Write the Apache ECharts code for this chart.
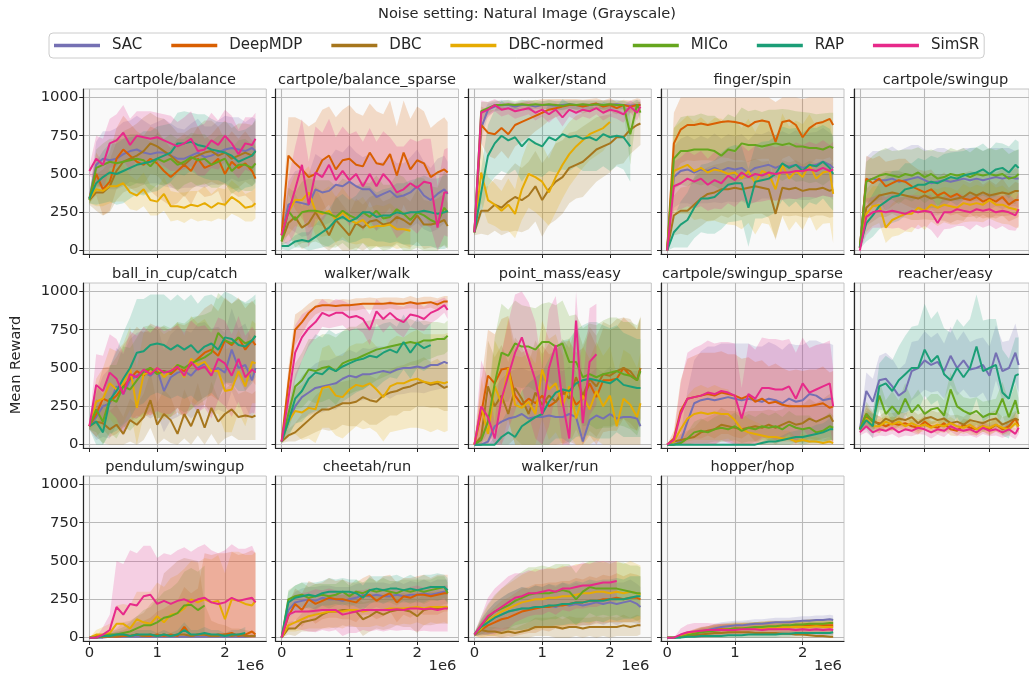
<!DOCTYPE html>
<html lang="en">
<head>
<meta charset="UTF-8" />
<title>Noise setting: Natural Image (Grayscale)</title>
<style>
  * { margin: 0; padding: 0; }
  body { background: #ffffff; }
</style>
</head>
<body>
<div id="main" style="width: 1029px; height: 679px;"></div>
<script src="https://cdn.jsdelivr.net/npm/echarts@6/dist/echarts.min.js"></script>
<script>
// methods, in plotting order
const methods = ['SAC', 'DeepMDP', 'DBC', 'DBC-normed', 'MICo', 'RAP', 'SimSR'];
const tasks = [
  'cartpole/balance', 'cartpole/balance_sparse', 'walker/stand', 'finger/spin', 'cartpole/swingup',
  'ball_in_cup/catch', 'walker/walk', 'point_mass/easy', 'cartpole/swingup_sparse', 'reacher/easy',
  'pendulum/swingup', 'cheetah/run', 'walker/run', 'hopper/hop'
];
// env steps (x 1e6)
const steps = [0, 0.1, 0.2, 0.3, 0.4, 0.5, 0.6, 0.7, 0.8, 0.9, 1.0, 1.1, 1.2, 1.3, 1.4, 1.5, 1.6, 1.7, 1.8, 1.9, 2.0, 2.1, 2.2, 2.3, 2.4, 2.45];
const xTicks = [0, 1, 2];
const yTicks = [0, 250, 500, 750, 1000];

// mean reward per task: one row per method (SAC, DeepMDP, DBC, DBC-normed, MICo, RAP, SimSR)
// and the half width of the shaded band for the same points
const cartpoleBalance = [
  [340,560,600,590,600,630,650,660,640,630,640,640,620,600,600,620,640,610,620,640,660,670,660,650,670,650],
  [340,500,400,450,600,660,620,580,560,600,570,520,480,520,560,520,600,540,560,600,500,580,540,570,520,470],
  [330,380,380,420,520,580,600,620,650,700,680,650,620,580,560,600,620,640,650,620,640,600,620,640,620,650],
  [340,400,390,420,420,440,380,360,400,330,320,370,290,290,280,300,290,310,280,310,300,350,320,280,290,310],
  [330,540,560,580,570,580,590,600,590,550,600,580,600,560,580,610,590,600,560,580,600,520,560,560,540,570],
  [340,440,480,510,500,520,540,560,570,580,600,620,640,700,700,710,690,680,660,650,640,620,580,600,620,650],
  [520,600,560,700,720,770,690,750,740,730,740,720,700,680,700,730,650,660,720,690,750,700,630,700,690,730]
];
const cartpoleBalanceSd = [
  [30,150,180,190,200,210,200,220,210,190,200,220,210,200,190,210,220,200,190,210,220,200,210,190,200,210],
  [30,140,170,190,200,220,210,200,190,210,220,200,190,210,200,220,210,190,200,210,220,200,190,210,200,210],
  [30,120,150,170,190,200,200,210,220,200,190,210,200,190,210,200,190,210,200,190,210,200,210,190,200,200],
  [30,110,100,110,100,120,110,100,110,100,90,110,100,90,100,90,100,110,90,100,100,110,100,90,100,100],
  [30,120,140,150,160,150,170,160,150,160,170,150,160,170,150,160,170,160,150,170,160,150,160,170,150,160],
  [30,140,170,190,200,210,200,190,210,200,210,200,190,200,210,190,200,210,200,190,200,210,200,190,200,210],
  [30,150,170,160,170,180,170,160,170,180,160,170,180,160,170,180,160,170,180,160,170,180,160,170,180,170]
];

const cartpoleBalanceSparse = [
  [100,300,320,310,300,400,380,390,430,420,450,420,400,400,350,370,390,350,360,380,420,360,330,370,400,370],
  [100,620,570,530,480,500,590,620,530,590,600,560,550,640,570,560,630,490,640,530,590,570,480,510,530,510],
  [60,180,220,150,180,250,180,100,200,150,100,180,150,190,200,170,180,220,200,170,230,170,170,180,200,160],
  [100,250,330,330,380,260,240,260,200,250,200,180,200,150,160,160,170,140,140,130],
  [60,260,200,250,260,260,250,240,220,260,230,210,250,220,260,210,220,270,240,200,250,230,200,180,280,250],
  [30,30,60,70,60,90,120,150,200,220,190,210,250,250,220,230,230,250,240,250,250,260,250,240,250,260],
  [100,250,400,560,300,510,480,560,460,520,460,500,420,500,420,500,450,380,400,440,410,450,440,150,380,380]
];
const cartpoleBalanceSparseSd = [
  [30,150,200,220,200,230,220,210,230,220,240,220,210,230,220,210,230,220,210,230,240,220,210,230,220,210],
  [30,250,300,320,330,340,330,320,340,330,350,340,330,320,340,330,350,320,340,330,350,340,320,330,340,330],
  [30,120,150,140,150,160,150,130,160,150,140,160,150,160,170,150,160,170,160,150,170,160,150,160,170,150],
  [30,150,170,180,170,160,150,160,150,160,150,140,150,130,140,130,140,130,120,120],
  [30,150,180,200,210,200,210,220,200,210,220,210,200,220,230,220,210,230,240,220,230,240,220,230,240,230],
  [20,30,40,50,60,80,100,120,140,150,140,150,170,170,160,170,180,190,200,210,220,230,220,230,240,240],
  [30,220,280,300,280,300,290,300,280,290,300,280,290,300,290,280,290,300,280,290,300,280,290,270,280,290]
];

const walkerStand = [
  [120,800,920,940,950,950,940,950,950,940,950,950,945,950,955,950,945,950,955,950,950,955,950,945,950,950],
  [120,820,770,760,800,760,820,840,860,880,900,920,930,940,950,950,940,950,960,940,950,930,950,940,950,950],
  [120,260,260,300,280,320,350,330,360,420,330,400,450,480,540,560,580,620,660,680,700,740,740,790,820,830],
  [120,510,330,300,260,300,240,400,500,480,450,380,480,560,630,680,720,760,780,800,840],
  [120,910,930,950,950,955,950,955,950,955,950,955,950,945,955,950,955,950,955,950,955,950,950,760,955,900],
  [120,380,620,700,750,720,740,680,730,700,680,740,720,760,740,750,730,740,720,760,740,750,740,680],
  [120,900,920,950,920,930,910,920,930,900,920,890,920,870,920,900,920,910,930,900,920,910,890,940,900,940]
];
const walkerStandSd = [
  [20,80,40,30,35,30,25,30,35,30,25,30,35,30,25,30,35,30,25,30,35,30,25,30,35,30],
  [20,120,150,160,150,160,140,130,120,100,90,70,60,50,40,40,45,40,35,40,45,40,35,40,45,40],
  [20,150,160,170,180,200,220,210,220,230,240,230,250,240,230,220,230,220,210,200,190,180,170,160,150,140],
  [20,200,150,140,130,170,160,200,220,230,240,220,230,220,210,200,180,170,160,150,130],
  [20,60,40,30,25,30,25,30,25,30,25,30,25,30,25,30,25,30,25,30,25,30,30,200,30,60],
  [20,150,200,220,230,220,210,230,220,210,200,220,210,230,220,200,210,220,200,210,220,200,210,230],
  [20,80,50,40,45,40,50,45,40,50,45,55,45,60,45,50,45,50,40,50,45,50,55,40,50,40]
];

const fingerSpin = [
  [0,480,520,530,510,530,520,540,520,540,530,540,510,540,550,560,540,560,550,560,540,550,560,580,560,540],
  [0,700,790,820,820,830,820,830,840,845,840,830,810,840,850,840,710,840,850,820,740,800,830,840,860,820],
  [0,230,260,260,300,340,370,380,400,400,410,400,410,420,410,400,240,410,400,410,390,400,400,410,390,400],
  [0,520,540,560,520,540,510,530,520,500,510,470,520,440,520,500,400,560,470,520,480,560,470,510,520,370],
  [0,600,650,650,660,660,660,650,620,660,650,700,690,690,680,690,700,690,700,680,680,670,670,660,680,670],
  [0,120,170,200,280,340,340,350,390,430,440,440,280,450,460,470,500,570,540,560,520,560,550,580,540,500],
  [0,420,440,470,450,470,430,460,440,490,460,510,480,500,490,510,500,510,510,520,520,530,520,540,520,530]
];
const fingerSpinSd = [
  [10,200,210,220,215,220,210,225,210,220,215,220,210,225,210,220,215,220,210,225,210,220,215,220,210,210],
  [10,200,220,230,235,240,230,245,230,240,250,240,230,245,250,240,260,240,230,245,250,240,230,245,250,240],
  [10,130,150,160,170,180,175,180,170,185,170,180,175,180,170,185,170,180,175,180,170,185,170,180,175,180],
  [10,280,300,320,320,330,320,335,340,330,345,330,340,335,340,330,320,335,340,330,345,330,340,335,340,320],
  [10,200,220,230,220,235,220,230,225,230,220,235,220,230,225,230,220,235,220,230,225,230,220,235,220,230],
  [10,100,150,180,200,220,230,240,250,245,250,240,255,240,250,245,250,240,255,240,250,245,250,240,255,240],
  [10,160,170,180,175,180,170,185,170,180,175,180,170,185,170,180,175,180,170,185,170,180,175,180,170,180]
];

const cartpoleSwingup = [
  [20,460,470,460,460,470,450,460,470,480,460,440,450,460,450,460,470,460,470,460,470,480,470,480,470,470],
  [20,470,440,470,420,440,460,450,420,400,380,400,360,380,350,370,340,330,350,320,340,320,350,300,330,330],
  [20,280,320,360,370,380,370,360,350,340,360,340,350,340,330,340,350,380,360,380,360,370,380,370,390,390],
  [20,240,290,300,150,200,220,240,240,280,260,300,280,300,290,280,310,300,310,300,330,300,300,280,270,260],
  [20,450,470,490,500,490,480,500,490,510,480,500,470,480,500,490,500,480,500,490,500,490,500,470,480,500],
  [20,180,230,290,320,350,360,400,410,430,430,450,440,460,480,470,490,500,510,530,500,530,540,510,560,540],
  [0,220,250,260,250,260,250,240,260,250,260,250,180,250,250,270,260,250,270,260,270,250,260,250,230,270]
];
const cartpoleSwingupSd = [
  [10,150,180,190,200,210,200,210,220,210,200,210,220,210,200,190,200,210,200,190,200,190,200,190,180,190],
  [10,150,160,150,160,150,140,150,140,130,140,130,120,130,120,130,120,110,120,110,120,110,120,110,120,110],
  [10,120,130,140,150,140,150,145,150,140,155,140,150,145,150,140,155,140,150,145,150,140,155,140,150,140],
  [10,120,130,120,100,110,120,115,120,110,125,110,120,115,120,110,125,110,120,115,120,110,125,110,120,110],
  [10,130,150,160,170,160,175,160,170,165,170,160,175,160,170,165,170,160,175,160,170,165,170,160,175,160],
  [10,120,140,150,160,170,165,170,160,175,160,170,165,170,160,175,160,170,165,170,160,175,160,170,165,170],
  [10,120,100,110,100,115,100,110,105,110,100,115,100,110,105,110,100,115,100,110,105,110,100,115,100,110]
];

const ballInCup = [
  [120,180,250,270,380,330,420,450,470,450,490,350,440,470,480,450,500,530,480,500,470,620,500,520,420,500],
  [120,200,300,280,320,380,430,480,450,500,470,480,460,500,480,520,560,600,620,580,680,650,700,620,680,650],
  [120,150,140,100,130,70,160,130,180,290,130,200,160,70,200,120,230,110,240,150,200,230,180,190,180,190],
  [120,280,300,400,360,400,500,240,460,470,500,440,480,520,440,560,520,540,480,480,350,360,480,380,540,530],
  [120,230,150,300,280,380,360,420,480,500,460,480,470,520,500,530,550,570,600,730,680,660,700,660,680,710],
  [120,150,80,290,350,430,500,600,610,650,660,650,620,650,620,650,600,640,660,620,700,690,650,640,680,710],
  [120,390,350,470,430,330,460,440,490,460,500,470,480,510,450,540,490,510,450,560,530,450,560,440,490,470]
];
const ballInCupSd = [
  [20,150,200,230,250,260,270,280,270,280,290,270,280,290,270,280,290,270,280,270,260,270,260,270,260,260],
  [20,150,200,230,250,270,280,290,280,290,300,290,280,290,300,290,280,290,300,290,280,270,260,270,260,260],
  [20,100,130,120,130,110,140,130,150,180,140,160,150,120,160,140,170,130,170,150,160,170,150,160,150,160],
  [20,150,200,230,250,260,270,260,270,280,270,280,270,280,270,280,270,280,270,280,270,280,270,260,270,260],
  [20,150,180,220,240,260,270,280,290,280,290,300,290,280,290,300,290,280,270,260,270,260,250,260,250,240],
  [20,150,180,220,260,300,330,350,340,330,320,330,320,330,320,330,320,330,320,330,300,290,300,290,280,270],
  [20,200,230,250,260,270,280,270,280,270,280,270,280,270,280,270,280,270,280,270,280,270,280,270,280,270]
];

const walkerWalk = [
  [20,150,250,310,340,370,380,390,400,430,450,440,460,460,470,480,470,490,500,500,510,500,520,520,540,530],
  [20,400,750,800,860,900,910,910,905,910,910,915,920,920,920,920,925,920,920,930,920,925,930,915,935,935],
  [20,60,80,120,160,200,230,230,250,270,270,280,310,290,280,320,340,350,370,380,400,410,390,400,370,380],
  [20,150,220,210,240,230,370,380,320,310,360,390,380,400,360,310,380,400,400,420,430,410,400,410,400,410],
  [20,200,380,420,490,480,500,510,480,530,550,560,580,600,620,630,640,650,660,670,660,680,680,690,690,710],
  [20,150,300,350,430,470,460,500,480,510,530,550,560,580,570,600,620,600,670,600,660,630,650],
  [20,300,600,700,760,800,860,840,860,860,830,840,820,750,870,820,860,820,800,850,840,820,860,880,910,880]
];
const walkerWalkSd = [
  [10,80,120,140,150,160,170,160,170,165,170,160,170,165,170,160,170,165,170,160,170,165,170,160,170,160],
  [10,100,100,80,60,50,40,40,35,40,35,40,35,40,35,40,35,40,35,40,35,40,35,40,35,35],
  [10,40,60,80,100,120,130,140,150,140,150,160,150,160,150,160,150,160,150,160,150,160,150,160,150,160],
  [10,100,150,180,200,220,260,270,260,270,280,270,280,290,280,290,300,310,300,310,320,310,320,310,320,320],
  [10,100,150,180,200,210,220,210,220,210,220,210,220,210,200,190,180,170,160,150,140,130,120,110,100,100],
  [10,100,160,200,230,250,240,250,240,230,220,210,200,190,200,190,180,170,180,170,160,150,140],
  [10,150,180,150,120,100,90,80,90,80,90,80,90,100,80,90,80,90,100,80,90,80,70,60,50,60]
];

const pointMassEasy = [
  [0,0,20,120,150,170,180,200,170,180,180,190,180,180,200,180,20,160,190,170,200,170,180,180,170,120],
  [0,200,450,400,490,500,320,260,300,270,320,250,280,330,350,260,300,400,310,420,420,430,500,450,420,500],
  [0,50,380,250,320,200,370,300,200,340,260,320,280,350,300,440,320,430,380,460,450,480,500,480,420,500],
  [0,250,70,380,270,500,260,240,280,200,490,360,400,250,380,170,320,230,350,250,320,120,300,260,180,270],
  [0,30,150,400,600,580,660,640,640,620,670,670,640,660,540,540,440,460,440,460,470,480,460,450,420,480],
  [0,0,0,0,50,80,50,120,150,180,200,280,340,360,350,400,420,430,420,410,400,430,390,380,370,370],
  [0,250,180,40,300,450,600,700,560,420,200,500,650,280,40,810,140,540,590]
];
const pointMassEasySd = [
  [0,50,150,250,280,300,310,300,310,300,310,300,310,300,310,300,200,300,310,300,310,300,310,300,310,300],
  [0,200,300,320,330,340,330,340,330,340,330,340,330,340,330,340,330,340,330,340,330,340,330,340,330,330],
  [0,100,300,320,330,340,330,340,330,340,330,340,330,340,330,340,330,340,330,340,330,340,330,340,330,340],
  [0,200,150,300,320,330,320,330,320,330,320,330,320,330,320,330,320,330,320,330,320,330,320,330,320,330],
  [0,50,150,300,320,300,280,270,260,270,250,260,270,280,300,310,320,330,340,350,360,350,340,350,360,350],
  [0,0,0,50,100,150,200,230,250,260,270,280,300,320,340,350,360,370,380,370,360,350,340,330,320,320],
  [0,300,250,100,300,350,380,330,370,380,300,380,320,350,100,200,250,350,330]
];

const cartpoleSwingupSparse = [
  [0,0,20,150,270,290,300,290,300,310,300,290,300,290,280,300,290,270,300,280,290,330,320,290,300,300],
  [0,40,220,300,310,320,330,320,340,330,320,300,320,280,300,270,280,260,250,250,250,250,260,270,240,250],
  [0,20,30,40,50,80,90,100,130,120,110,100,110,120,110,130,110,130,150,130,140,170,150,170,190,150],
  [0,20,100,170,200,210,200,210,200,200,160,100,80,70,60,50,50,40,40,20,30,20,20,10,20,10],
  [0,0,10,40,80,90,80,100,110,100,120,90,110,100,120,110,120,100,130,110,100,110,80,90,120,110],
  [0,0,0,0,0,0,0,0,0,0,0,0,0,0,10,20,20,30,40,50,50,60,70,80,100,100],
  [0,30,200,300,310,320,340,330,350,340,320,170,330,300,370,370,360,360,380,300,400,340,360,380,400,250]
];
const cartpoleSwingupSparseSd = [
  [0,0,50,200,280,320,340,350,360,350,360,370,360,350,360,370,360,350,360,370,360,350,360,370,360,350],
  [0,50,200,260,270,280,270,280,270,260,270,260,250,260,250,240,250,240,230,240,230,240,230,240,230,230],
  [0,20,40,50,60,80,90,100,110,100,110,100,110,100,110,100,110,100,120,110,120,130,120,130,140,130],
  [0,20,100,150,170,180,170,180,170,160,150,110,90,80,70,60,60,50,50,30,40,30,30,20,30,20],
  [0,0,10,40,70,80,70,80,90,80,90,80,90,80,90,80,90,80,90,80,90,80,70,80,90,80],
  [0,0,0,0,0,0,0,0,0,0,0,0,0,0,10,20,20,30,40,40,50,50,60,60,70,70],
  [0,30,200,300,320,330,340,330,320,330,340,200,330,320,330,320,330,320,310,300,300,290,290,280,280,250]
];

const reacherEasy = [
  [100,350,280,420,430,380,320,350,480,500,550,520,540,480,580,500,550,490,500,520,450,600,480,500,600,520],
  [100,200,150,140,120,140,130,140,120,110,150,120,110,140,100,90,130,110,100,120,100,130,100,120,170,120],
  [100,180,160,130,170,150,170,160,180,140,170,180,160,170,140,150,130,160,150,140,160,170,130,150,170,160],
  [100,170,120,120,150,130,150,120,140,120,130,110,130,120,140,120,110,130,100,120,110,130,110,100,140,120],
  [100,200,150,320,200,250,200,300,210,260,200,230,240,190,360,250,220,200,220,180,200,200,300,180,290,200],
  [100,160,120,380,400,350,420,460,500,500,620,540,580,460,420,500,440,500,640,480,500,520,340,300,450,460],
  [80,120,80,100,90,110,80,100,90,110,100,80,100,90,120,100,90,100,80,110,90,100,80,100,70,110]
];
const reacherEasySd = [
  [20,120,150,160,170,180,170,180,190,180,190,180,190,180,190,180,190,180,190,180,190,180,190,180,190,180],
  [20,60,50,45,40,45,40,35,40,45,40,35,40,45,40,35,40,45,40,35,40,45,40,35,40,45],
  [20,60,50,55,50,55,50,45,50,55,50,45,50,55,50,45,50,55,50,45,50,55,50,45,50,55],
  [20,50,40,45,40,45,40,35,40,45,40,35,40,45,40,35,40,45,40,35,40,45,40,35,40,45],
  [20,80,70,100,90,100,90,100,90,100,90,100,90,100,110,100,90,100,90,100,90,100,110,100,110,100],
  [20,60,80,150,180,200,220,250,270,280,300,280,290,300,310,320,330,320,340,330,320,300,280,260,250,240],
  [20,40,35,40,35,40,35,40,35,40,35,40,35,40,35,40,35,40,35,40,35,40,35,40,35,40]
];

const pendulumSwingup = [
  [0,0,0,5,5,5,5,5,5,5,5,5,5,5,5,5,5,5,5,5,5,5,5,5,10,10],
  [0,10,5,10,5,10,10,20,10,10,20,10,20,10,70,10,20,20,10,20,20,30,10,20,40,20],
  [0,0,5,5,10,20,10,20,10,20,10,20,10,20,20,10,20,20,10,10,20,10,20,10,10,10],
  [0,20,20,30,90,90,60,120,100,90,140,100,150,160,190,250,230,250,230,240,120,250,240,220,210,240],
  [0,0,10,20,20,30,40,60,80,80,100,130,140,160,210,215,180,210],
  [0,0,10,10,20,20,10,20,20,20,10,20,10,20,50,20,20,30,20,20,10,20,20,30],
  [0,0,20,50,200,150,220,210,270,280,220,240,220,240,250,230,250,260,230,220,230,260,240,250,260,230]
];
const pendulumSwingupSd = [
  [0,0,0,5,5,5,5,5,5,5,5,5,5,5,5,5,5,5,5,5,5,5,5,5,10,10],
  [0,10,10,20,30,40,60,80,100,120,150,180,200,230,260,280,300,530,530,530,530,530,530,530,530,530],
  [0,10,20,30,50,80,100,120,150,200,250,400,450,480,500,500,480,200,100,80,60,50,40,40,30,30],
  [0,30,50,60,120,130,150,180,200,210,220,230,240,250,260,250,260,270,280,300,300,310,320,320,330,320],
  [0,0,10,20,30,40,60,80,100,120,150,170,180,200,220,240,250,260],
  [0,0,10,10,20,20,20,30,30,30,20,30,20,30,50,30,30,40,30,30,20,30,30,40],
  [0,0,50,100,300,330,350,340,330,320,300,310,320,330,340,330,340,350,340,330,340,350,340,330,340,320]
];

const cheetahRun = [
  [0,180,230,240,250,240,260,250,250,240,250,260,280,270,280,270,270,280,270,280,280,290,280,290,300,300],
  [0,140,220,180,250,220,240,260,250,250,240,230,270,280,240,270,290,230,270,260,280,280,270,280,290,290],
  [0,60,60,100,110,120,150,170,170,180,180,170,120,140,170,150,170,180,180,170,140,180,190,190,200,190],
  [0,80,100,120,140,150,160,170,170,170,180,180,170,180,180,180,190,190,190,195,200,190,200,200,200,200],
  [0,250,270,280,260,270,280,270,280,300,270,300,290,310,300,310,300,290,310,300,310,300,310,320,330,290],
  [0,230,260,270,280,270,290,300,300,300,300,290,260,310,320,310,320,320,310,320,310,320,330,330,330,310],
  [0,150,170,170,170,175,180,180,180,150,160,170,180,180,180,180,180,185,180,190,190,185,190,180,190,190]
];
const cheetahRunSd = [
  [0,60,70,80,80,90,80,90,80,90,80,90,80,90,80,90,80,90,80,90,80,90,80,90,80,80],
  [0,80,100,110,120,130,120,130,120,130,120,130,120,130,120,130,120,130,120,130,120,130,120,130,120,120],
  [0,40,50,60,70,80,90,100,110,100,110,100,110,100,110,100,110,100,110,100,110,100,110,100,110,100],
  [0,40,60,70,80,90,100,110,100,110,100,110,100,110,100,110,100,110,100,110,100,110,100,110,100,110],
  [0,60,70,80,70,80,70,80,70,80,70,80,70,80,70,80,70,80,70,80,70,80,70,80,70,70],
  [0,70,80,90,80,90,80,90,80,90,80,90,80,90,80,90,80,90,80,90,80,90,80,90,80,80],
  [0,100,110,120,130,140,130,140,130,140,130,140,130,140,130,140,130,140,130,140,150,140,150,140,150,150]
];

const walkerRun = [
  [20,60,100,130,150,170,180,190,190,200,200,210,200,220,210,220,210,220,230,220,230,220,230,240,220,200],
  [20,50,80,100,120,130,150,170,180,190,200,200,210,210,220,230,230,240,240,250,250,260,250,260,260,250],
  [20,50,40,40,30,40,30,40,50,70,70,70,70,60,70,70,60,70,70,70,70,70,80,70,80,80],
  [20,60,110,140,170,190,210,230,240,250,250,260,260,270,270,280,290,290,300,300,290,300,290,300,290,280],
  [20,80,130,170,190,210,240,260,280,290,290,290,300,310,300,250,300,330,320,320,320,320,310,300,290,290],
  [20,70,100,130,150,170,180,190,190,200,200,210,210,220,220,230,230,240,240,240,250,250,250,260,270,270],
  [20,80,140,170,200,230,260,270,290,290,300,310,300,320,320,330,340,340,350,360,360,370]
];
const walkerRunSd = [
  [10,50,80,100,110,120,130,140,130,140,130,140,130,140,130,140,130,140,130,140,130,140,130,140,130,130],
  [10,50,80,100,120,130,140,150,150,160,150,160,150,160,150,160,150,160,150,160,150,160,150,160,150,150],
  [10,30,30,30,30,30,30,40,50,60,60,60,70,60,70,60,70,60,70,60,70,60,70,60,70,60],
  [10,60,100,130,150,160,170,180,190,200,190,200,190,200,190,200,190,200,190,200,190,200,190,200,190,190],
  [10,60,90,110,130,150,160,170,180,170,180,170,180,170,180,170,180,170,180,170,180,170,180,170,180,170],
  [10,50,80,100,110,120,130,140,130,140,130,140,130,140,130,140,130,140,130,140,130,140,130,140,130,130],
  [10,60,120,150,160,170,160,150,150,140,150,140,150,140,150,140,150,140,150,140,140,130]
];

const hopperHop = [
  [0,0,10,20,30,40,50,60,70,75,80,80,85,90,90,95,100,100,100,105,110,110,115,115,120,115],
  [0,0,10,20,30,40,45,50,55,55,60,60,60,65,65,70,70,70,75,75,75,80,80,80,80,80],
  [0,0,5,10,15,20,25,30,30,35,35,35,35,30,30,30,30,25,25,20,20,15,10,10,5,5],
  [0,0,10,20,30,40,45,50,50,55,55,60,60,60,65,65,65,70,70,70,70,70,75,70,70,70],
  [0,0,5,15,25,35,40,45,50,55,60,60,65,70,70,75,75,80,80,85,85,90,90,90,95,95],
  [0,0,0,5,5,10,10,10,10,15,15,15,20,20,20,20,20,25,25,30,30,30,30,30,30,35],
  [0,0,20,35,40,45,50,50,50,50,50,55,55,55,50,55,55,55,55,50,55,50,55,50,55,50]
];
const hopperHopSd = [
  [0,0,10,15,20,25,25,30,30,30,30,30,30,30,30,30,30,30,30,30,30,30,30,30,30,30],
  [0,0,10,15,20,25,30,30,35,35,35,35,35,35,40,40,40,40,40,40,40,40,40,40,40,40],
  [0,0,20,30,40,50,50,55,60,60,65,65,70,70,70,75,75,75,80,80,80,80,80,80,80,80],
  [0,0,15,20,25,30,30,35,35,35,35,35,35,40,40,40,40,40,40,40,40,40,40,40,40,40],
  [0,0,10,15,20,25,25,30,30,30,30,30,30,30,30,30,30,30,30,30,30,30,30,30,30,30],
  [0,0,5,10,10,15,15,15,15,15,15,15,20,20,20,20,20,20,20,20,20,20,20,20,20,20],
  [0,0,40,50,55,50,45,40,40,40,35,35,35,35,35,35,35,35,35,35,35,35,35,35,35,35]
];

const taskMeans = [cartpoleBalance, cartpoleBalanceSparse, walkerStand, fingerSpin, cartpoleSwingup,
  ballInCup, walkerWalk, pointMassEasy, cartpoleSwingupSparse, reacherEasy,
  pendulumSwingup, cheetahRun, walkerRun, hopperHop];
const taskSpreads = [cartpoleBalanceSd, cartpoleBalanceSparseSd, walkerStandSd, fingerSpinSd, cartpoleSwingupSd,
  ballInCupSd, walkerWalkSd, pointMassEasySd, cartpoleSwingupSparseSd, reacherEasySd,
  pendulumSwingupSd, cheetahRunSd, walkerRunSd, hopperHopSd];

// ---- look ----
const FONT = 'DejaVu Sans';
const ink = '#262626';
const palette = ['#7570b3', '#d95f02', '#a6761d', '#e6ab02', '#66a61e', '#1b9e77', '#e7298a'];
const colLeft = [83.3, 275.5, 468.3, 661, 854];
const rowTop = [89, 283, 476];
const plotW = 183, plotH = 165;

function fade(hex, a) {
  const n = parseInt(hex.slice(1), 16);
  return 'rgba(' + (n >> 16) + ',' + ((n >> 8) & 255) + ',' + (n & 255) + ',' + a + ')';
}

function label(text, x, y, size, align, rot) {
  return { type: 'text', x: x, y: y, rotation: rot || 0,
    style: { text: text, font: size + 'px "DejaVu Sans"', fill: ink,
      textAlign: align, textVerticalAlign: 'middle', align: align, verticalAlign: 'middle' } };
}

const chart = echarts.init(document.getElementById('main'));
const grids = [], xAxes = [], yAxes = [], bands = [], lines = [];
const graphics = [
  label('Noise setting: Natural Image (Grayscale)', 527, 14, 14.6, 'center'),
  label('Mean Reward', 16, 365, 14.6, 'center', Math.PI / 2)
];

tasks.forEach(function (task, t) {
  const col = t % 5, row = Math.floor(t / 5);
  const left = colLeft[col], top = rowTop[row];
  grids.push({ left: left, top: top, width: plotW, height: plotH, show: true,
    backgroundColor: '#f9f9f9', borderColor: '#c4c4c4', borderWidth: 1 });
  xAxes.push({
    gridIndex: t, type: 'value', min: -0.09, max: 2.61,
    axisLine: { show: true, onZero: false, lineStyle: { color: ink, width: 1.2 } },
    axisTick: { show: true, customValues: xTicks, length: 4, lineStyle: { color: ink } },
    axisLabel: { show: t >= 10, customValues: xTicks, margin: 5, color: ink, fontSize: 14.8, fontFamily: FONT,
      formatter: function (v) { return String(v); } },
    splitLine: { show: true, lineStyle: { color: '#b9b9b9', width: 1.1 } }
  });
  yAxes.push({
    gridIndex: t, type: 'value', min: -22, max: 1055,
    axisLine: { show: true, onZero: false, lineStyle: { color: ink, width: 1.2 } },
    axisTick: { show: true, customValues: yTicks, length: 4, lineStyle: { color: ink } },
    axisLabel: { show: col === 0, customValues: yTicks, margin: 5, color: ink, fontSize: 14.8, fontFamily: FONT,
      formatter: function (v) { return String(v); } },
    splitLine: { show: true, lineStyle: { color: '#b9b9b9', width: 1.1 } }
  });
  graphics.push(label(task, left + plotW / 2, top - 9, 14.6, 'center'));
  if (t >= 10) graphics.push(label('1e6', left + plotW - 2, 666, 14.8, 'right'));

  methods.forEach(function (m, k) {
    const mean = taskMeans[t][k];
    const sd = taskSpreads[t][k];
    const pts = mean.map(function (v, i) {
      return [steps[i], Math.max(0, v - sd[i]), Math.min(1000, v + sd[i])];
    });
    bands.push({
      type: 'custom', name: m + ' band', xAxisIndex: t, yAxisIndex: t, silent: true, z: 1,
      encode: { x: 0, y: [1, 2] }, data: pts,
      renderItem: function (params, api) {
        if (params.dataIndex !== 0) return null;
        const poly = [];
        for (let i = 0; i < pts.length; i++) poly.push(api.coord([pts[i][0], pts[i][2]]));
        for (let i = pts.length - 1; i >= 0; i--) poly.push(api.coord([pts[i][0], pts[i][1]]));
        return { type: 'polygon', shape: { points: poly }, style: { fill: fade(palette[k], 0.2) } };
      }
    });
    lines.push({
      type: 'line', name: m, xAxisIndex: t, yAxisIndex: t, silent: true, z: 3,
      data: mean.map(function (v, i) { return [steps[i], v]; }),
      showSymbol: false, symbol: 'none',
      lineStyle: { width: 2, color: palette[k] }, itemStyle: { color: palette[k] }
    });
  });
});

chart.setOption({
  animation: false,
  textStyle: { fontFamily: FONT },
  legend: {
    data: methods, left: 49, top: 33, icon: 'rect', itemWidth: 46, itemHeight: 3.5, itemGap: 29,
    padding: [5, 5, 5, 5], borderColor: '#cccccc', borderWidth: 1, borderRadius: 4, backgroundColor: '#ffffff',
    textStyle: { fontSize: 15, color: ink, fontFamily: FONT, padding: [0, 0, 0, 7] },
    selectedMode: false
  },
  grid: grids,
  xAxis: xAxes,
  yAxis: yAxes,
  graphic: graphics,
  series: bands.concat(lines)
});
</script>
</body>
</html>
